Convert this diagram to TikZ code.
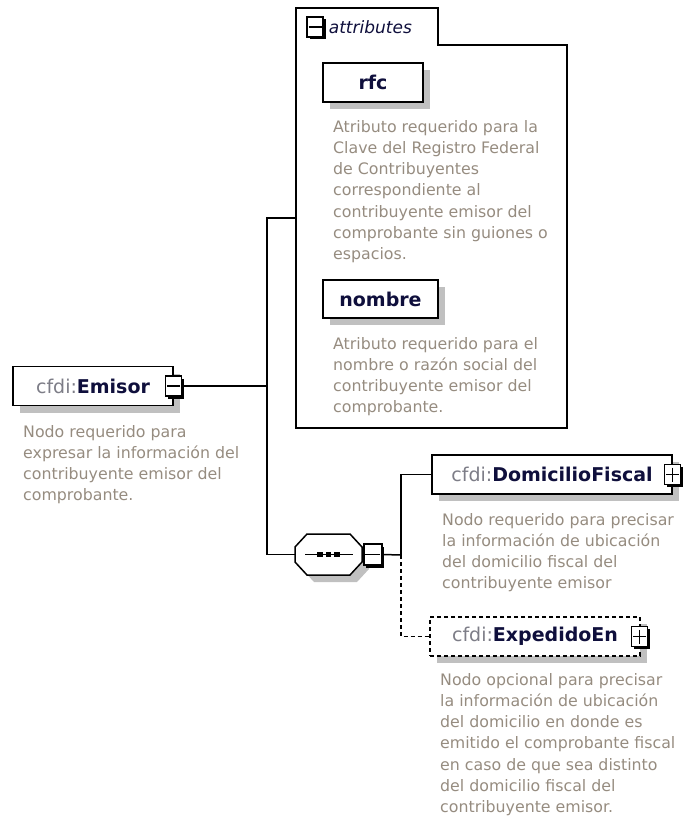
\documentclass[tikz,border=0pt]{standalone}
\usepackage{fontspec}
\setmainfont{DejaVu Sans}
\usetikzlibrary{positioning,shadows}

\definecolor{desctext}{RGB}{150,140,128}
\definecolor{nsgray}{RGB}{125,125,135}
\definecolor{elname}{RGB}{15,15,60}
\definecolor{shadowgray}{RGB}{192,192,192}

\tikzset{
  wire/.style={line width=1.5pt},
  optwire/.style={line width=1.5pt, dash pattern=on 4pt off 3pt},
  element/.style={draw, line width=1.5pt, fill=white, minimum height=39pt, inner xsep=0pt,
    font=\fontsize{19}{22}\selectfont,
    drop shadow={shadow xshift=7pt, shadow yshift=-7pt, fill=shadowgray, opacity=1}},
  optelement/.style={element, dash pattern=on 4pt off 3pt},
  toggle/.style={draw, line width=1.3pt, fill=white, minimum width=16pt, minimum height=20pt, inner sep=0pt,
    drop shadow={shadow xshift=2.5pt, shadow yshift=-2.5pt, fill=black, opacity=1}},
  minusbox/.style={toggle, path picture={
    \draw[line width=1.3pt, shorten <=1.5pt, shorten >=1.5pt] (path picture bounding box.west) -- (path picture bounding box.east);}},
  plusbox/.style={toggle, path picture={
    \draw[line width=1.3pt, shorten <=1.5pt, shorten >=1.5pt] (path picture bounding box.west) -- (path picture bounding box.east);
    \draw[line width=1.3pt, shorten <=3pt, shorten >=3pt] (path picture bounding box.north) -- (path picture bounding box.south);}},
  desc/.style={anchor=north west, inner sep=0pt, align=left, text=desctext,
    font=\fontsize{15.8}{21.2}\selectfont},
}
\newcommand{\elname}[1]{{\color{nsgray}cfdi:}{\bfseries\color{elname}#1}}

\begin{document}
\begin{tikzpicture}[x=1pt,y=-1pt]
\useasboundingbox (0,0) rectangle (683,818);

% root element
\node[element, minimum width=160pt] (em) at (93,386) {\elname{Emisor}\hspace{6pt}};
\node[minusbox] (em_t) at (em.east) {};
\node[desc] (em_d) at (23,425) {Nodo requerido para\\expresar la información del\\contribuyente emisor del\\comprobante.};

% attributes group
\node[minimum width=271pt, minimum height=420pt, anchor=north west, inner sep=0pt] (attrs) at (296,8) {};
\draw[wire] (296,45) -- (296,8) -- (438,8) -- (438,45) -- (567,45) -- (567,428) -- (296,428) -- cycle;
\node[minusbox] (attr_t) at (315,27) {};
\node[right=5pt of attr_t, inner sep=0pt, font=\fontsize{17}{20}\selectfont\itshape, text=elname] (attr_l) {attributes};

\node[element, minimum width=100pt, font=\fontsize{19}{22}\selectfont\bfseries] (rfc) at (373,82.5) {\color{elname}rfc};
\node[desc] (rfc_d) at (333,120) {Atributo requerido para la\\Clave del Registro Federal\\de Contribuyentes\\correspondiente al\\contribuyente emisor del\\comprobante sin guiones o\\espacios.};

\node[element, minimum width=115pt, minimum height=38pt, font=\fontsize{19}{22}\selectfont\bfseries] (nombre) at (380.5,299) {\color{elname}nombre};
\node[desc] (nombre_d) at (333,337) {Atributo requerido para el\\nombre o razón social del\\contribuyente emisor del\\comprobante.};

% sequence compositor
\node[minimum width=67pt, minimum height=41pt, inner sep=0pt] (seq) at (328.5,554.5) {};
\begin{scope}[shift={(seq.center)}]
  \fill[shadowgray, shift={(7,7)}] (-33.5,-7.5) -- (-21.5,-20.5) -- (21.5,-20.5) -- (33.5,-7.5) -- (33.5,7.5) -- (21.5,20.5) -- (-21.5,20.5) -- (-33.5,7.5) -- cycle;
  \draw[wire, fill=white] (-33.5,-7.5) -- (-21.5,-20.5) -- (21.5,-20.5) -- (33.5,-7.5) -- (33.5,7.5) -- (21.5,20.5) -- (-21.5,20.5) -- (-33.5,7.5) -- cycle;
  \draw[wire] (-23.5,0) -- (24.5,0);
  \foreach \dx in {-8.5,0,8.5}
    \fill (\dx,0) +(-2.6,-2.6) rectangle +(2.6,2.6);
\end{scope}
\node[minusbox, minimum width=18pt, minimum height=21pt, anchor=west] (seq_t) at ([xshift=1pt]seq.east) {};

% child elements
\node[element, minimum width=240pt] (dom) at (552,474.5) {\elname{DomicilioFiscal}\hspace{6pt}};
\node[plusbox] (dom_t) at (dom.east) {};
\node[desc] (dom_d) at (442,513) {Nodo requerido para precisar\\la información de ubicación\\del domicilio fiscal del\\contribuyente emisor};

\node[optelement, minimum width=210pt] (exp) at (535,636.5) {\elname{ExpedidoEn}\hspace{6pt}};
\node[plusbox] (exp_t) at ([xshift=-1pt]exp.east) {};
\node[desc] (exp_d) at (440,673) {Nodo opcional para precisar\\la información de ubicación\\del domicilio en donde es\\emitido el comprobante fiscal\\en caso de que sea distinto\\del domicilio fiscal del\\contribuyente emisor.};

% connectors
\coordinate (trunk) at (267,386);
\coordinate (branch) at (401,555);
\draw[wire] (em_t.east) -- (trunk);
\draw[wire] (attrs.west) -| (trunk) |- (seq.west);
\draw[wire] (seq_t.east) -- (branch);
\draw[wire] (branch) |- (dom.west);
\draw[optwire] (branch) |- (exp.west);
\end{tikzpicture}
\end{document}
